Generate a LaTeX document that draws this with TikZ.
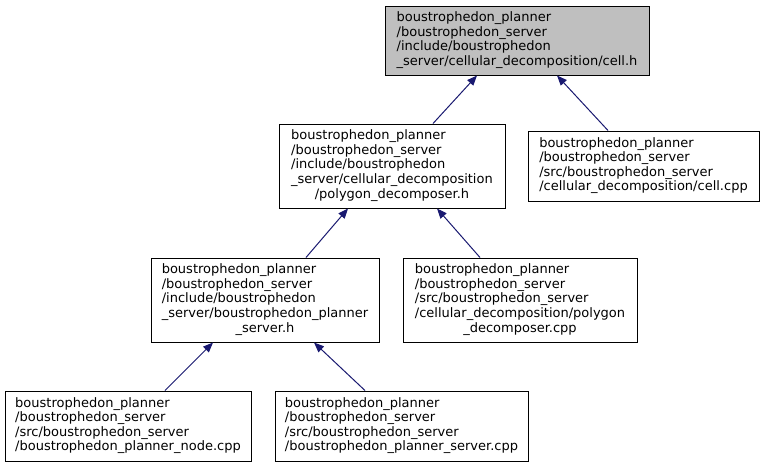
\documentclass[tikz,border=0pt]{standalone}
\usepackage{fontspec}
\setmainfont{DejaVu Sans}
\usetikzlibrary{arrows.meta}
\definecolor{edgeblue}{HTML}{191970}
\definecolor{rootgray}{HTML}{BFBFBF}
\tikzset{
  file/.style={draw=black, line width=1pt, inner sep=0pt, anchor=center,
    font=\fontsize{13}{14.6}\selectfont},
  edge/.style={draw=edgeblue, line width=1pt, -{Triangle[length=10pt,width=8pt,fill=edgeblue]}}
}
\begin{document}
\begin{tikzpicture}[x=1pt,y=-1pt]
\useasboundingbox (0,0) rectangle (765,467);
\node[file, fill=rootgray, minimum width=264pt, minimum height=69pt] (cellh) at (517,40.5)
  {\begin{tabular}{@{}l@{}}boustrophedon\_planner\\/boustrophedon\_server\\/include/boustrophedon\\\_server/cellular\_decomposition/cell.h\end{tabular}};
\node[file, minimum width=226pt, minimum height=84pt] (polyh) at (392,166)
  {\begin{tabular}{@{}l@{}}boustrophedon\_planner\\/boustrophedon\_server\\/include/boustrophedon\\\_server/cellular\_decomposition\\\multicolumn{1}{@{}c@{}}{/polygon\_decomposer.h}\end{tabular}};
\node[file, minimum width=231pt, minimum height=70pt] (cellcpp) at (643.5,166)
  {\begin{tabular}{@{}l@{}}boustrophedon\_planner\\/boustrophedon\_server\\/src/boustrophedon\_server\\/cellular\_decomposition/cell.cpp\end{tabular}};
\node[file, minimum width=228pt, minimum height=84pt] (serverh) at (265,300)
  {\begin{tabular}{@{}l@{}}boustrophedon\_planner\\/boustrophedon\_server\\/include/boustrophedon\\\_server/boustrophedon\_planner\\\multicolumn{1}{@{}c@{}}{\_server.h}\end{tabular}};
\node[file, minimum width=234pt, minimum height=84pt] (polycpp) at (520,300)
  {\begin{tabular}{@{}l@{}}boustrophedon\_planner\\/boustrophedon\_server\\/src/boustrophedon\_server\\/cellular\_decomposition/polygon\\\multicolumn{1}{@{}c@{}}{\_decomposer.cpp}\end{tabular}};
\node[file, minimum width=246pt, minimum height=70pt] (nodecpp) at (128,426)
  {\begin{tabular}{@{}l@{}}boustrophedon\_planner\\/boustrophedon\_server\\/src/boustrophedon\_server\\/boustrophedon\_planner\_node.cpp\end{tabular}};
\node[file, minimum width=253pt, minimum height=70pt] (servercpp) at (401.5,426)
  {\begin{tabular}{@{}l@{}}boustrophedon\_planner\\/boustrophedon\_server\\/src/boustrophedon\_server\\/boustrophedon\_planner\_server.cpp\end{tabular}};
\draw[edge] ([xshift=41pt]polyh.north) -- ([xshift=-40pt]cellh.south);
\draw[edge] ([xshift=-35.5pt]cellcpp.north) -- ([xshift=40pt]cellh.south);
\draw[edge] ([xshift=41pt]serverh.north) -- ([xshift=-44pt]polyh.south);
\draw[edge] ([xshift=-40pt]polycpp.north) -- ([xshift=45pt]polyh.south);
\draw[edge] ([xshift=37pt]nodecpp.north) -- ([xshift=-52pt]serverh.south);
\draw[edge] ([xshift=-36.5pt]servercpp.north) -- ([xshift=49pt]serverh.south);
\end{tikzpicture}
\end{document}
